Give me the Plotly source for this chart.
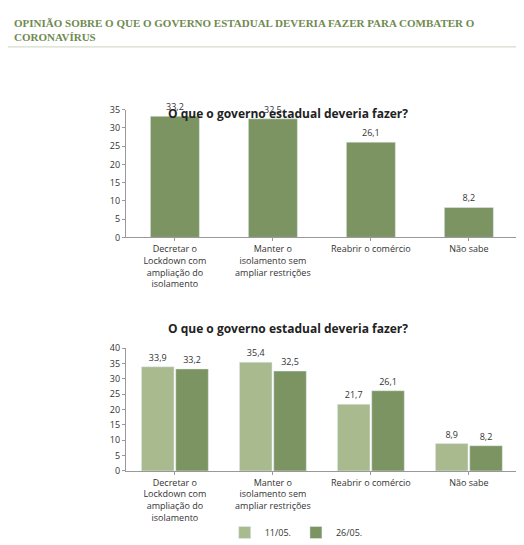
import plotly.graph_objects as go

categories = ["Decretar o<br>Lockdown com<br>ampliação do<br>isolamento",
              "Manter o<br>isolamento sem<br>ampliar restrições",
              "Reabrir o comércio", "Não sabe"]
values_top = [33.2, 32.5, 26.1, 8.2]
values_1105 = [33.9, 35.4, 21.7, 8.9]
values_2605 = [33.2, 32.5, 26.1, 8.2]
dark = "#7b9461"
light = "#a9ba8f"

def fmt(v):
    return [str(x).replace(".", ",") for x in v]

fig = go.Figure()
fig.add_trace(go.Bar(x=categories, y=values_top, marker_color=dark, width=0.5,
                     text=fmt(values_top), textposition="outside", showlegend=False,
                     cliponaxis=False, xaxis="x", yaxis="y"))
fig.add_trace(go.Bar(x=categories, y=values_1105, marker_color=light, name="11/05.",
                     text=fmt(values_1105), textposition="outside", cliponaxis=False,
                     xaxis="x2", yaxis="y2"))
fig.add_trace(go.Bar(x=categories, y=values_2605, marker_color=dark, name="26/05.",
                     text=fmt(values_2605), textposition="outside", cliponaxis=False,
                     xaxis="x2", yaxis="y2"))

axis_common = dict(showgrid=False, showline=True, linecolor="#999", ticks="outside",
                   ticklen=3, tickcolor="#999", tickfont=dict(size=9, color="#333"))
fig.update_layout(
    width=524, height=545, margin=dict(l=0, r=0, t=0, b=0),
    paper_bgcolor="white", plot_bgcolor="white",
    font=dict(family="Open Sans", size=9, color="#333"),
    barmode="group", bargap=0.3, bargroupgap=0.05,
    xaxis=dict(domain=[0.225, 0.973], anchor="y", **axis_common),
    yaxis=dict(domain=[0.582, 0.822], range=[0, 35], dtick=5, anchor="x", **axis_common),
    xaxis2=dict(domain=[0.225, 0.973], anchor="y2", **axis_common),
    yaxis2=dict(domain=[0.143, 0.374], range=[0, 40], dtick=5, anchor="x2", **axis_common),
    uniformtext=dict(minsize=9, mode="show"),
    legend=dict(orientation="h", x=0.55, xanchor="center", y=0.0, yanchor="bottom",
                font=dict(size=9), itemwidth=30),
    annotations=[
        dict(text="<b>OPINIÃO SOBRE O QUE O GOVERNO ESTADUAL DEVERIA FAZER PARA COMBATER O<br>CORONAVÍRUS</b>",
             x=0.008, y=1.0, xref="paper", yref="paper", xanchor="left", yanchor="top",
             align="left", showarrow=False,
             font=dict(family="Liberation Serif", size=11, color="#6f8a4f")),
        dict(text="<b>O que o governo estadual deveria fazer?</b>", x=0.535, y=0.835,
             xref="paper", yref="paper", showarrow=False, font=dict(size=12, color="#222")),
        dict(text="<b>O que o governo estadual deveria fazer?</b>", x=0.535, y=0.41,
             xref="paper", yref="paper", showarrow=False, font=dict(size=12, color="#222")),
    ],
    shapes=[dict(type="line", xref="paper", yref="paper", x0=0, x1=1, y0=0.94, y1=0.94,
                 line=dict(color="#c9d3bb", width=1))],
)
fig.write_html("out.html")
